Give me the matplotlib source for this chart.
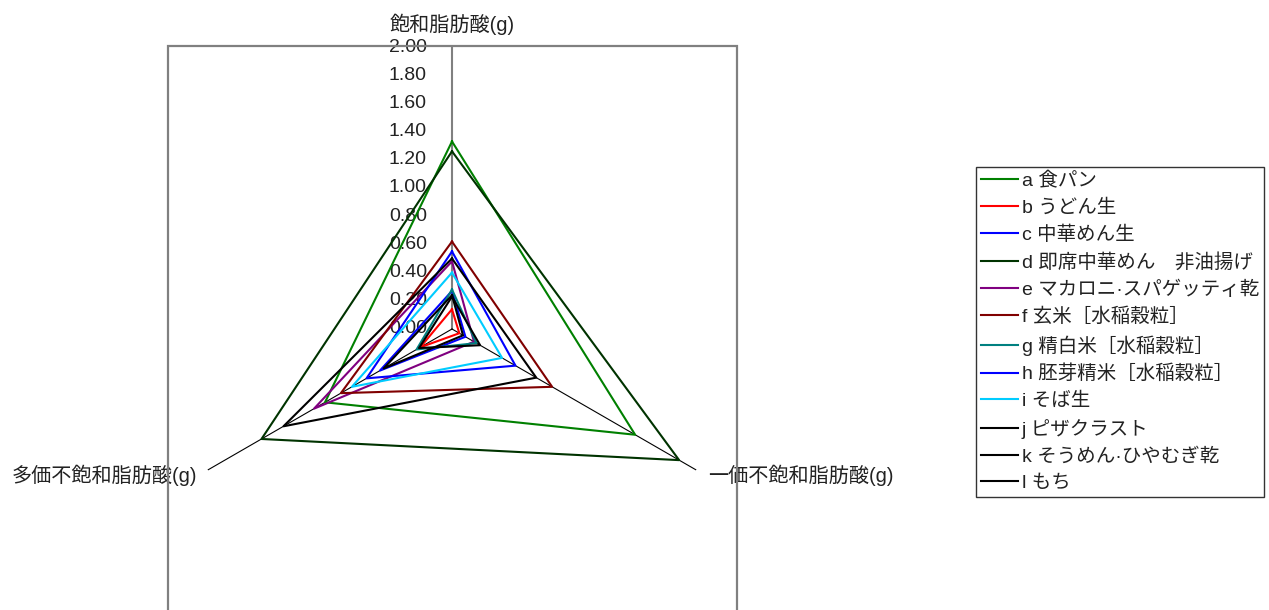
import numpy as np
import matplotlib
matplotlib.use("Agg")
import matplotlib.pyplot as plt
from matplotlib.patches import Rectangle
from matplotlib.transforms import offset_copy

plt.rcParams['font.family'] = ['Liberation Sans', 'Noto Sans CJK JP', 'DejaVu Sans']

axis_labels = ["飽和脂肪酸(g)", "一価不飽和脂肪酸(g)", "多価不飽和脂肪酸(g)"]
tick_values = [0.0, 0.2, 0.4, 0.6, 0.8, 1.0, 1.2, 1.4, 1.6, 1.8, 2.0]
tick_labels = ["0.00", "0.20", "0.40", "0.60", "0.80", "1.00", "1.20", "1.40", "1.60", "1.80", "2.00"]

series_names = [
    "a 食パン",
    "b うどん生",
    "c 中華めん生",
    "d 即席中華めん　非油揚げ",
    "e マカロニ·スパゲッティ乾",
    "f 玄米［水稲穀粒］",
    "g 精白米［水稲穀粒］",
    "h 胚芽精米［水稲穀粒］",
    "i そば生",
    "j ピザクラスト",
    "k そうめん·ひやむぎ乾",
    "l もち",
]
# values: [飽和, 一価不飽和, 多価不飽和]
a_shokupan = [1.33, 1.50, 1.04]
b_udon = [0.14, 0.06, 0.26]
c_chuka = [0.27, 0.11, 0.59]
d_sokuseki = [1.26, 1.86, 1.56]
e_macaroni = [0.48, 0.18, 1.13]
f_genmai = [0.62, 0.82, 0.91]
g_seihakumai = [0.28, 0.20, 0.29]
h_haigamai = [0.55, 0.52, 0.70]
i_soba = [0.40, 0.41, 0.82]
j_pizza = [0.50, 0.69, 1.38]
k_somen = [0.24, 0.09, 0.56]
l_mochi = [0.23, 0.23, 0.27]

series_values = [a_shokupan, b_udon, c_chuka, d_sokuseki, e_macaroni, f_genmai,
                 g_seihakumai, h_haigamai, i_soba, j_pizza, k_somen, l_mochi]
series_colors = ["#008000", "#FF0000", "#0000FF", "#003300", "#800080", "#800000",
                 "#008080", "#0000FF", "#00CCFF", "#000000", "#000000", "#000000"]

W, H = 1269, 610
fig = plt.figure(figsize=(W / 100, H / 100), dpi=100)

# gray plot-area rectangle
fig.add_artist(Rectangle((168 / W, -0.05), (737 - 168) / W, (610 - 46) / H + 0.05,
                         transform=fig.transFigure, fill=False, ec="#808080", lw=1.6))

cx, cy, R = 452, 329, 282
ax = fig.add_axes([(cx - R) / W, 1 - (cy + R) / H, 2 * R / W, 2 * R / H],
                  projection="polar")
ax.set_theta_zero_location("N")
ax.set_theta_direction(-1)
ax.set_ylim(0, 2.0)
ax.grid(False)
ax.set_xticks([])
ax.set_yticks([])
ax.spines["polar"].set_visible(False)
ax.patch.set_alpha(0)

angles = np.deg2rad([0, 120, 240])

# spokes
ax.plot([angles[0], angles[0]], [0, 2.0], color="#808080", lw=1.5, zorder=1)
for a in angles[1:]:
    ax.plot([a, a], [0, 2.0], color="black", lw=0.8, zorder=1)

# tick labels on the top spoke
tt = offset_copy(ax.transData, fig=fig, x=-25, y=0, units="dots")
for v, lab in zip(tick_values, tick_labels):
    ax.text(angles[0], v, lab, transform=tt, ha="right", va="center",
            fontsize=14, color="#222222", zorder=0)

# axis titles
ax.text(angles[0], 2.0, axis_labels[0],
        transform=offset_copy(ax.transData, fig=fig, x=0, y=23, units="dots"),
        ha="center", va="center", fontsize=14.5, color="#222222")
ax.text(angles[1], 2.0, axis_labels[1],
        transform=offset_copy(ax.transData, fig=fig, x=12, y=-5, units="dots"),
        ha="left", va="center", fontsize=14.5, color="#222222")
ax.text(angles[2], 2.0, axis_labels[2],
        transform=offset_copy(ax.transData, fig=fig, x=-11, y=-5, units="dots"),
        ha="right", va="center", fontsize=14.5, color="#222222")

handles = []
for name, vals, col in zip(series_names, series_values, series_colors):
    th = np.append(angles, angles[0])
    rr = np.append(vals, vals[0])
    ln, = ax.plot(th, rr, color=col, lw=1.5, label=name, zorder=3)
    handles.append(ln)

leg = fig.legend(handles=handles, loc="upper left",
                 bbox_to_anchor=(976 / W, 1 - 167 / H), fontsize=14,
                 frameon=True, fancybox=False, edgecolor="black",
                 handlelength=1.9, handletextpad=0.2, labelspacing=0.46,
                 borderpad=0.25, borderaxespad=0)
leg.get_frame().set_linewidth(1.0)
for t in leg.get_texts():
    t.set_color("#222222")

fig.savefig("out.png", dpi=100)
